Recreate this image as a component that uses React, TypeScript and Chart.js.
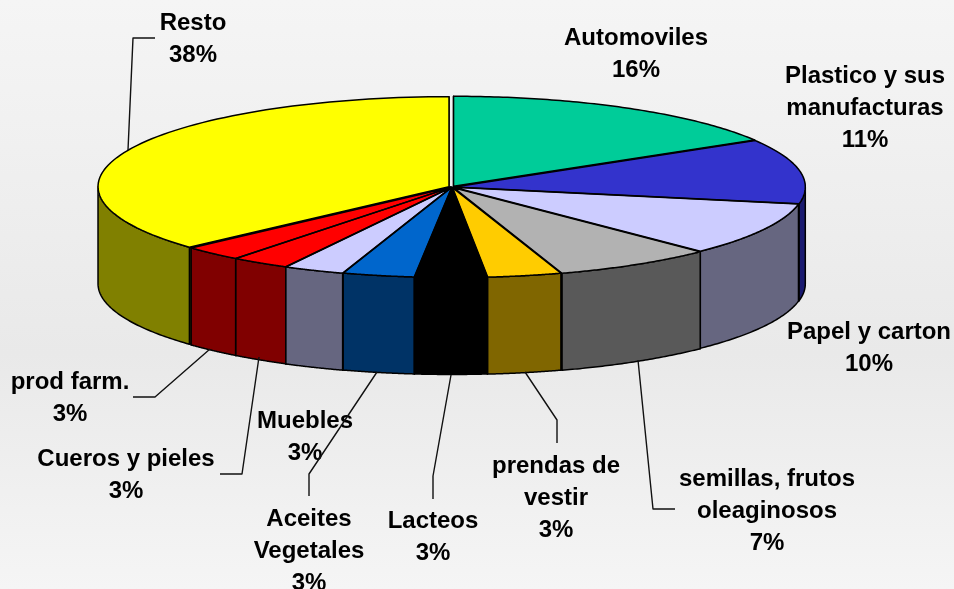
import React, { useEffect, useRef } from "react";
import { Chart, registerables } from "chart.js";

Chart.register(...registerables);

// Data
const categories = ["Automoviles", "Plastico y sus manufacturas", "Papel y carton", "semillas, frutos oleaginosos", "prendas de vestir", "Lacteos", "Aceites Vegetales", "Muebles", "Cueros y pieles", "prod farm.", "Resto"];
const shares = [16.4, 11.6, 9.6, 7.4, 3.4, 3.3, 3.3, 2.8, 2.7, 2.75, 36.75];
const printedPercents = [16, 11, 10, 7, 3, 3, 3, 3, 3, 3, 38];

// Styles
const topColors = ["#00CC99", "#3333CC", "#CCCCFF", "#B2B2B2", "#FFCC00", "#000000", "#0066CC", "#CCCCFF", "#FF0000", "#FF0000", "#FFFF00"];
const wallColors = ["#006B50", "#1A1A70", "#666680", "#595959", "#806600", "#000000", "#003366", "#666680", "#800000", "#800000", "#808000"];
const explode = [12, 8, 6, 10, 6, 4, 4, 6, 4, 4, 12];

// Layout of the annotations
const labelLayout = [
  { x: 636, y: 38, lines: ["Automoviles"] },
  { x: 865, y: 76, lines: ["Plastico y sus", "manufacturas"] },
  { x: 869, y: 332, lines: ["Papel y carton"] },
  { x: 767, y: 479, lines: ["semillas, frutos", "oleaginosos"] },
  { x: 556, y: 466, lines: ["prendas de", "vestir"] },
  { x: 433, y: 521, lines: ["Lacteos"] },
  { x: 309, y: 519, lines: ["Aceites", "Vegetales"] },
  { x: 305, y: 421, lines: ["Muebles"] },
  { x: 126, y: 459, lines: ["Cueros y pieles"] },
  { x: 70, y: 382, lines: ["prod farm."] },
  { x: 193, y: 23, lines: ["Resto"] },
];
const leaders: number[][][] = [
  [[155, 38], [133, 38], [128, 150]],
  [[133, 397], [155, 397], [210, 349]],
  [[220, 474], [242, 474], [259, 357]],
  [[309, 496], [309, 474], [377, 372]],
  [[433, 499], [433, 476], [451, 375]],
  [[557, 443], [557, 420], [525, 372]],
  [[675, 509], [653, 509], [638, 360]],
];

const SQUASH = 90 / 351;
const DEPTH = 97;
const LINE_GAP = 32;

function sliceGeometry(arc: any, i: number) {
  const start = arc.startAngle;
  const end = arc.endAngle;
  const mid = (start + end) / 2;
  const span = end - start;
  const fix = 1 - Math.sin(Math.min(Math.PI, span));
  const shift = explode[i] / 4 + fix;
  const cx = arc.x + Math.cos(mid) * shift;
  const cy = arc.y + Math.sin(mid) * shift * SQUASH;
  const r = arc.outerRadius;
  return { start, end, mid, cx, cy, r };
}

function pt(g: any, t: number, down = 0): [number, number] {
  return [g.cx + g.r * Math.cos(t), g.cy + g.r * Math.sin(t) * SQUASH + down];
}

function frontRange(start: number, end: number): [number, number] | null {
  // Part of [start, end] (canvas radians) whose rim faces the viewer
  for (const k of [0, 2 * Math.PI, -2 * Math.PI]) {
    const a = Math.max(start, k);
    const b = Math.min(end, k + Math.PI);
    if (b > a) return [a, b];
  }
  return null;
}

function styleStroke(ctx: CanvasRenderingContext2D) {
  ctx.strokeStyle = "#000000";
  ctx.lineWidth = 1.5;
  ctx.lineJoin = "round";
}

const pie3d = {
  id: "pie3d",
  beforeDatasetsDraw(chart: any) {
    const ctx: CanvasRenderingContext2D = chart.ctx;
    const meta = chart.getDatasetMeta(0);
    const order = meta.data
      .map((arc: any, i: number) => ({ i, g: sliceGeometry(arc, i) }))
      .sort((a: any, b: any) => Math.sin(a.g.mid) - Math.sin(b.g.mid));
    ctx.save();
    styleStroke(ctx);
    for (const { i, g } of order) {
      // radial faces, visible only in the gaps between slices
      for (const t of [g.start, g.end]) {
        const [x, y] = pt(g, t);
        ctx.beginPath();
        ctx.moveTo(g.cx, g.cy);
        ctx.lineTo(x, y);
        ctx.lineTo(x, y + DEPTH);
        ctx.lineTo(g.cx, g.cy + DEPTH);
        ctx.closePath();
        ctx.fillStyle = wallColors[i];
        ctx.fill();
        ctx.stroke();
      }
    }
    for (const { i, g } of order) {
      const range = frontRange(g.start, g.end);
      if (!range) continue;
      ctx.beginPath();
      const steps = 60;
      for (let s = 0; s <= steps; s++) {
        const [x, y] = pt(g, range[0] + ((range[1] - range[0]) * s) / steps);
        s === 0 ? ctx.moveTo(x, y) : ctx.lineTo(x, y);
      }
      for (let s = steps; s >= 0; s--) {
        const [x, y] = pt(g, range[0] + ((range[1] - range[0]) * s) / steps, DEPTH);
        ctx.lineTo(x, y);
      }
      ctx.closePath();
      ctx.fillStyle = wallColors[i];
      ctx.fill();
      ctx.stroke();
    }
    ctx.restore();
    // squash the library's own arcs into the tilted top surface
    const first = meta.data[0];
    ctx.save();
    ctx.translate(first.x, first.y);
    ctx.scale(1, SQUASH);
    ctx.translate(-first.x, -first.y);
  },
  afterDatasetsDraw(chart: any) {
    const ctx: CanvasRenderingContext2D = chart.ctx;
    ctx.restore();
    const meta = chart.getDatasetMeta(0);
    ctx.save();
    styleStroke(ctx);
    meta.data.forEach((arc: any, i: number) => {
      const g = sliceGeometry(arc, i);
      ctx.beginPath();
      ctx.moveTo(g.cx, g.cy);
      const steps = 80;
      for (let s = 0; s <= steps; s++) {
        const [x, y] = pt(g, g.start + ((g.end - g.start) * s) / steps);
        ctx.lineTo(x, y);
      }
      ctx.closePath();
      ctx.stroke();
    });

    ctx.fillStyle = "#000000";
    ctx.font = 'bold 24px "Liberation Sans", Arial, sans-serif';
    ctx.textAlign = "center";
    ctx.textBaseline = "middle";
    categories.forEach((_, i) => {
      const l = labelLayout[i];
      const rows = [...l.lines, `${printedPercents[i]}%`];
      rows.forEach((row, r) => ctx.fillText(row, l.x, l.y + r * LINE_GAP));
    });

    ctx.strokeStyle = "#111111";
    ctx.lineWidth = 1.4;
    for (const line of leaders) {
      ctx.beginPath();
      line.forEach(([x, y], j) => (j === 0 ? ctx.moveTo(x, y) : ctx.lineTo(x, y)));
      ctx.stroke();
    }
    ctx.restore();
  },
};

export default function App() {
  const ref = useRef<HTMLCanvasElement>(null);
  useEffect(() => {
    const chart = new Chart(ref.current as HTMLCanvasElement, {
      type: "pie",
      data: {
        labels: categories,
        datasets: [
          {
            data: shares,
            backgroundColor: topColors,
            borderWidth: 0,
            offset: explode,
            radius: 351,
            clip: false,
          } as any,
        ],
      },
      options: {
        animation: false,
        responsive: false,
        events: [],
        layout: { padding: { left: 0, right: 50, top: 0, bottom: 215 } },
        plugins: { legend: { display: false }, title: { display: false }, tooltip: { enabled: false } },
      },
      plugins: [pie3d],
    } as any);
    return () => chart.destroy();
  }, []);
  return (
    <div
      style={{
        position: "absolute",
        left: 0,
        top: 0,
        width: 954,
        height: 589,
        overflow: "hidden",
        background: "linear-gradient(180deg, #F5F5F5 0%, #E9E9E9 60%, #F5F5F5 100%)",
      }}
    >
      <canvas ref={ref} width={954} height={589} style={{ display: "block" }} />
    </div>
  );
}
